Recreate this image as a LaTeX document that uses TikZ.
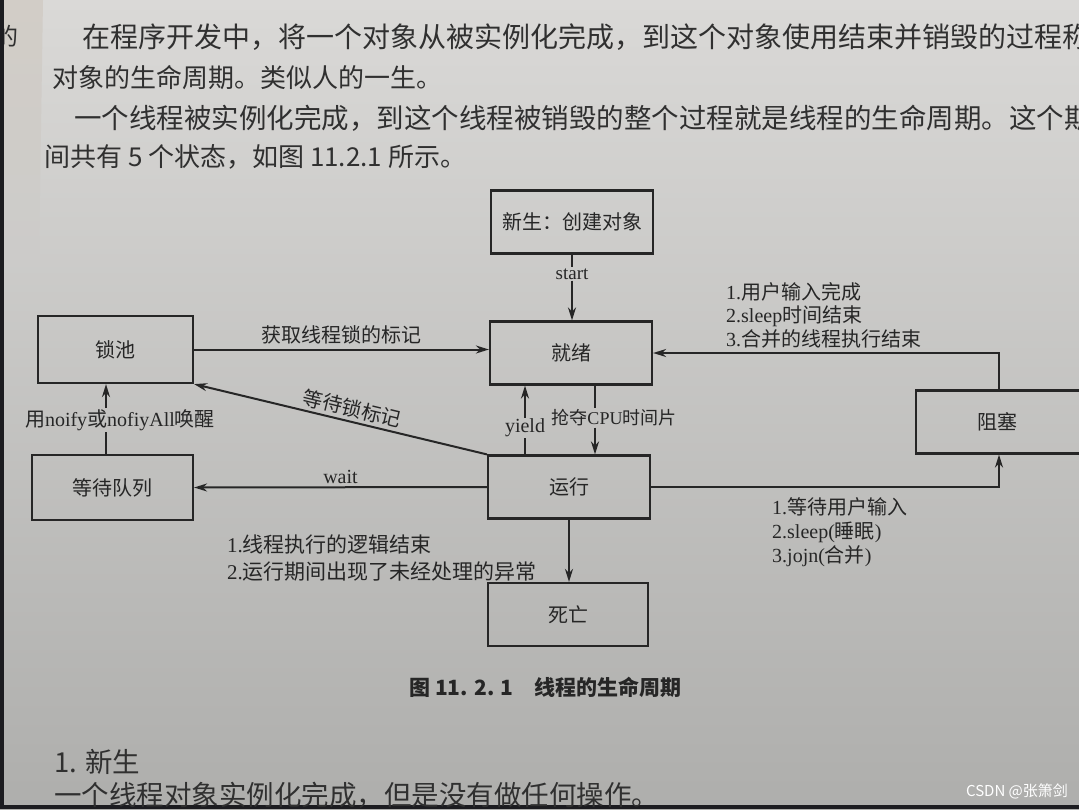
\documentclass[tikz,border=0pt]{standalone}
\usepackage{fontspec}
\setmainfont{Noto Sans CJK SC}
\newfontfamily\lat{Liberation Serif}
\usetikzlibrary{arrows.meta}
\definecolor{ink}{HTML}{262626}
\definecolor{bodyink}{HTML}{303030}
\definecolor{bgtop}{HTML}{DAD9D7}
\definecolor{bgbot}{HTML}{AEAEAC}
\definecolor{edge}{HTML}{1C1C20}
\definecolor{leftpage}{HTML}{D2CDC7}
\tikzset{
  box/.style={draw=ink, line width=2.2pt, minimum width=162pt, minimum height=63pt,
              inner sep=0pt, font=\fontsize{20}{24}\selectfont, text=ink},
  lbl/.style={font=\fontsize{20}{23.5}\selectfont, text=ink, inner sep=1pt},
  latlbl/.style={font=\lat\fontsize{20}{24}\selectfont, text=ink, inner sep=1pt},
  conn/.style={draw=ink, line width=2pt},
  arr/.style={conn, -{Stealth[length=13pt,width=8pt]}},
  body/.style={font=\fontsize{26}{30}\selectfont, text=bodyink, anchor=west, inner sep=0pt},
}
\begin{document}
\begin{tikzpicture}[x=1pt,y=-1pt]
\useasboundingbox (0,0) rectangle (1079,809);
% page background
\shade[top color=bgtop, bottom color=bgbot] (0,0) rectangle (1079,809);
\shade[top color=leftpage, bottom color=bgtop!68!bgbot] (4,0) -- (43,0) -- (39,260) -- (4,260) -- cycle;
\node[body, font=\fontsize{24}{28}\selectfont] (prev) at (-6,36) {的};
\fill[edge] (0,0) rectangle (4,809);
\fill[edge] (0,805) rectangle (1079,809);

% page text
\node[body, font=\fontsize{28}{32}\selectfont] (t1) at (82,37) {在程序开发中，将一个对象从被实例化完成，到这个对象使用结束并销毁的过程称为};
\node[body] (t2) at (52,78) {对象的生命周期。类似人的一生。};
\node[body, font=\fontsize{27.5}{32}\selectfont] (t3) at (74,118) {一个线程被实例化完成，到这个线程被销毁的整个过程就是线程的生命周期。这个期};
\node[body] (t4) at (44,157) {间共有 5 个状态，如图 11.2.1 所示。};

% states
\node[box] (new) at (572,222) {新生：创建对象};
\node[box] (ready) at (571,353) {就绪};
\node[box, minimum width=155pt, minimum height=67pt] (pool) at (115.5,349.5) {锁池};
\node[box, minimum width=161pt, minimum height=65pt] (waitq) at (112.5,487.5) {等待队列};
\node[box] (run) at (569,487) {运行};
\node[box, minimum width=184pt] (block) at (1008,422) {\hspace*{-22pt}阻塞};
\node[box, minimum width=160pt] (dead) at (568,614.5) {死亡};

% new -> ready
\node[latlbl, font=\lat\fontsize{19}{22}\selectfont] (startl) at (572,274) {start};
\draw[conn] (new.south) -- (startl.north);
\draw[arr] (startl.south) -- (startl.south |- ready.north);

% pool -> ready
\draw[arr] (pool.east) -- (pool.east -| ready.west)
  node[midway, above=3pt, lbl] {获取线程锁的标记};

% run -> pool
\draw[conn, {Stealth[length=13pt,width=8pt]}-] (pool.south east) -- (run.north west)
  node[pos=0.53, sloped, above=2pt, lbl] {等待锁标记};

% run -> wait queue
\draw[arr] (run.west) -- (waitq.east)
  node[midway, above=2pt, latlbl] {wait};

% wait queue -> pool
\coordinate (wx) at (106,0);
\node[lbl] (wake) at (120,420) {用{\lat noify}或{\lat nofiyAll}唤醒};
\draw[conn] (waitq.north -| wx) -- (wake.south -| wx);
\draw[arr] (wake.north -| wx) -- (pool.south -| wx);

% yield
\node[latlbl] (yl) at (525,428) {yield};
\draw[conn] (run.north -| yl) -- (yl.south);
\draw[arr] (yl.north) -- (ready.south -| yl);

% ready -> run
\coordinate (cx) at (595,0);
\node[lbl, font=\fontsize{18}{22}\selectfont] (cpu) at (614,418) {抢夺{\lat CPU}时间片};
\draw[conn] (ready.south -| cx) -- (cpu.north -| cx);
\draw[arr] (cpu.south -| cx) -- (run.north -| cx);

% block <-> ready / run
\coordinate (bx) at (999,0);
\draw[arr] (block.north -| bx) |- (ready.east);
\draw[arr] (run.east) -| (block.south -| bx);
\node[lbl, anchor=north west, align=left] (rl) at (725,281)
  {{\lat 1.}用户输入完成\\{\lat 2.sleep}时间结束\\{\lat 3.}合并的线程执行结束};
\node[lbl, anchor=north west, align=left, font=\fontsize{20}{24}\selectfont] (bl) at (771,496)
  {{\lat 1.}等待用户输入\\{\lat 2.sleep(}睡眠{\lat )}\\{\lat 3.jojn(}合并{\lat )}};

% run -> dead
\draw[arr] (run.south) -- (run.south |- dead.north);
\node[lbl, anchor=north west, align=left, font=\fontsize{21}{27}\selectfont] (dl) at (226,534)
  {{\lat 1.}线程执行的逻辑结束\\{\lat 2.}运行期间出现了未经处理的异常};

% caption
\node[anchor=west, inner sep=0pt, text=ink, font=\bfseries\fontsize{21}{25}\selectfont] (cap) at (409,687)
  {图 11. 2. 1\quad 线程的生命周期};

% following text
\node[body, font=\fontsize{27.5}{32}\selectfont] (h1) at (54,762) {1. 新生};
\node[body, font=\fontsize{27.5}{32}\selectfont] (b1) at (54,795) {一个线程对象实例化完成，但是没有做任何操作。};

% watermark
\node[font=\fontsize{15}{18}\selectfont, text=white!92, inner sep=0pt] (wm) at (1017,791) {CSDN @张箫剑};
\end{tikzpicture}
\end{document}
